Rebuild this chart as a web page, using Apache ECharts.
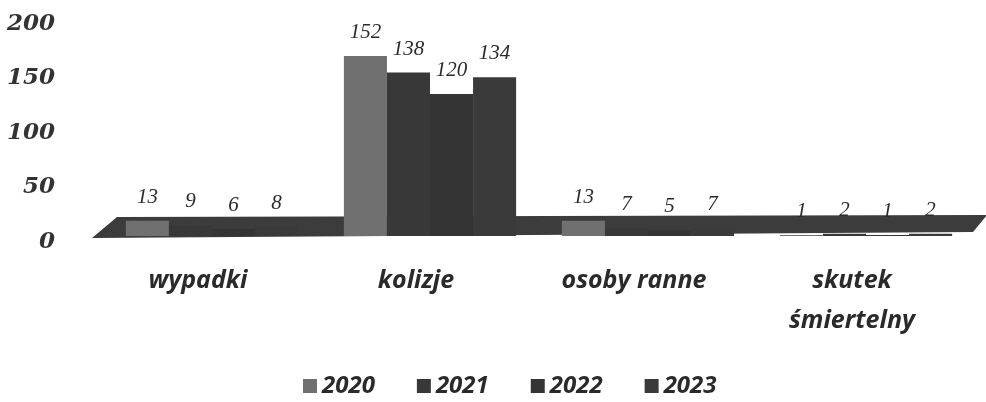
<!DOCTYPE html>
<html>
<head>
<meta charset="utf-8">
<script src="https://cdn.jsdelivr.net/npm/echarts@6/dist/echarts.min.js"></script>
<style>
html, body { margin: 0; padding: 0; background: #fff; }
#main { width: 986px; height: 402px; }
</style>
</head>
<body>
<div id="main"></div>
<script>
var categories = ['wypadki', 'kolizje', 'osoby ranne', 'skutek\nśmiertelny'];
var years = ['2020', '2021', '2022', '2023'];
var data2020 = [13, 152, 13, 1];
var data2021 = [9, 138, 7, 2];
var data2022 = [6, 120, 5, 1];
var data2023 = [8, 134, 7, 2];
var yTicks = [0, 50, 100, 150, 200];
var colors = ['#707070', '#383838', '#343434', '#3a3a3a'];

// bars of one year, drawn on the front (hidden) axis
function barSeries(name, values, color) {
    return {
        name: name,
        type: 'bar',
        yAxisIndex: 1,
        data: values,
        barGap: '0%',
        barCategoryGap: '21%',
        itemStyle: { color: color },
        label: {
            show: true,
            position: 'top',
            distance: 13,
            color: '#2b2b2b',
            fontFamily: 'Liberation Serif',
            fontStyle: 'italic',
            fontSize: 21
        },
        z: 3
    };
}

var chart = echarts.init(document.getElementById('main'));
chart.setOption({
    animation: false,
    backgroundColor: '#ffffff',
    color: colors,
    grid: { left: 103, right: 11, top: 24, bottom: 160 },
    legend: {
        data: years,
        left: 298,
        top: 369,
        icon: 'rect',
        itemWidth: 14,
        itemHeight: 14,
        itemGap: 42,
        textStyle: {
            fontFamily: 'Open Sans',
            fontStyle: 'italic',
            fontWeight: 'bold',
            fontSize: 24,
            color: '#2a2a2a'
        }
    },
    xAxis: {
        type: 'category',
        data: categories,
        axisLine: { show: false },
        axisTick: { show: false },
        axisLabel: {
            margin: 19,
            lineHeight: 40,
            padding: [0, 28, 0, 0],
            fontFamily: 'Open Sans',
            fontStyle: 'italic',
            fontWeight: 'bold',
            fontSize: 25,
            color: '#2a2a2a'
        }
    },
    yAxis: [
        {
            type: 'value',
            min: yTicks[0],
            max: yTicks[yTicks.length - 1],
            interval: 50,
            axisLine: { show: false },
            axisTick: { show: false },
            splitLine: { show: false },
            axisLabel: {
                margin: 48,
                fontFamily: 'DejaVu Serif',
                fontStyle: 'italic',
                fontWeight: 'bold',
                fontSize: 23,
                color: '#333'
            }
        },
        {
            // front plane of the 3d chart, bars sit on this one
            type: 'value',
            min: -5,
            max: 179,
            show: false
        }
    ],
    series: [
        {
            // floor of the 3d chart
            type: 'custom',
            yAxisIndex: 1,
            silent: true,
            z: 1,
            data: [[0, 0]],
            renderItem: function (params, api) {
                var cs = params.coordSys;
                var base = api.coord([0, 0])[1];
                return {
                    type: 'polygon',
                    shape: {
                        points: [
                            [cs.x - 11, base + 2],
                            [cs.x + 14, base - 19],
                            [cs.x + cs.width + 12, base - 21],
                            [cs.x + cs.width - 2, base - 4]
                        ]
                    },
                    style: { fill: '#3c3c3c' }
                };
            }
        },
        barSeries(years[0], data2020, colors[0]),
        barSeries(years[1], data2021, colors[1]),
        barSeries(years[2], data2022, colors[2]),
        barSeries(years[3], data2023, colors[3])
    ]
});
</script>
</body>
</html>
